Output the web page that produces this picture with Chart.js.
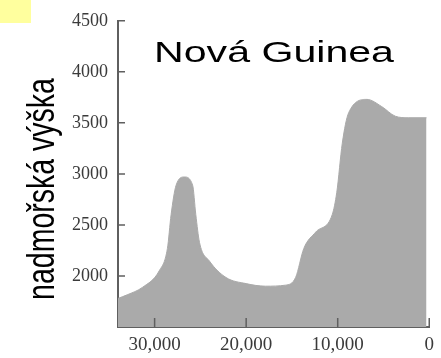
<!DOCTYPE html>
<html>
<head>
<meta charset="utf-8">
<script src="https://cdn.jsdelivr.net/npm/chart.js@4/dist/chart.umd.min.js"></script>
<style>
  html, body { margin: 0; padding: 0; background: #ffffff; }
  #wrap { position: relative; width: 441px; height: 358px; }
</style>
</head>
<body>
<div id="wrap"><canvas id="c"></canvas></div>
<script>
// Elevation profile, New Guinea: years before present vs. altitude (m)
const years = [34000, 33000, 31300, 29500, 28600, 28200, 27650, 26750, 25850, 25500, 25100, 24000, 22200, 20000, 17900, 15700, 14600, 13700, 12400, 10600, 10100, 9500, 8800, 6800, 5200, 3700, 2300, 300];
const elevation = [1780, 1815, 1890, 2050, 2270, 2600, 2890, 2970, 2890, 2600, 2330, 2145, 1985, 1925, 1900, 1910, 1985, 2270, 2430, 2600, 2820, 3300, 3600, 3730, 3660, 3565, 3550, 3550];
const xTickValues = [30000, 20000, 10000, 0];
const yTickValues = [2000, 2500, 3000, 3500, 4000, 4500];
const titleText = 'Nová Guinea';
const yAxisTitle = 'nadmořská výška';

const AXIS_COLOR = '#5f5f5f';
const TEXT_STRETCH = 1.37;

// light yellow tab in the top-left corner
const cornerTab = {
  id: 'cornerTab',
  beforeDraw(chart) {
    const ctx = chart.ctx;
    ctx.save();
    ctx.fillStyle = '#ffff9e';
    ctx.fillRect(0, 0, 31, 23);
    ctx.restore();
  }
};

// inward tick marks on both axes
const innerTicks = {
  id: 'innerTicks',
  afterDraw(chart) {
    const ctx = chart.ctx;
    const xs = chart.scales.x, ys = chart.scales.y;
    const area = chart.chartArea;
    ctx.save();
    ctx.strokeStyle = AXIS_COLOR;
    ctx.lineWidth = 1.5;
    ctx.beginPath();
    ys.ticks.forEach(t => {
      const py = ys.getPixelForValue(t.value);
      ctx.moveTo(area.left, py);
      ctx.lineTo(area.left + 7, py);
    });
    xs.ticks.forEach(t => {
      const px = xs.getPixelForValue(t.value);
      ctx.moveTo(px, area.bottom);
      ctx.lineTo(px, area.bottom - 9);
    });
    ctx.stroke();
    ctx.restore();
  }
};

// wide title and rotated axis title
const stretchedTitles = {
  id: 'stretchedTitles',
  afterDraw(chart) {
    const ctx = chart.ctx;
    ctx.save();
    ctx.fillStyle = '#000000';
    ctx.font = '30px "Liberation Sans", Arial, sans-serif';
    ctx.textAlign = 'center';
    ctx.textBaseline = 'alphabetic';
    ctx.translate(274, 62);
    ctx.scale(TEXT_STRETCH, 1);
    ctx.fillText(titleText, 0, 0);
    ctx.restore();

    ctx.save();
    ctx.fillStyle = '#000000';
    ctx.font = '28.5px "Liberation Sans", Arial, sans-serif';
    ctx.textAlign = 'center';
    ctx.textBaseline = 'alphabetic';
    ctx.translate(54, 189);
    ctx.scale(TEXT_STRETCH, 1);
    ctx.rotate(-Math.PI / 2);
    ctx.fillText(yAxisTitle, 0, 0);
    ctx.restore();
  }
};

const points = years.map((yr, i) => ({ x: yr, y: elevation[i] }));

new Chart(document.getElementById('c'), {
  type: 'line',
  data: {
    datasets: [{
      data: points,
      fill: 'start',
      backgroundColor: '#aaaaaa',
      borderColor: '#aaaaaa',
      borderWidth: 1,
      pointRadius: 0,
      cubicInterpolationMode: 'monotone'
    }]
  },
  options: {
    responsive: true,
    maintainAspectRatio: false,
    animation: false,
    layout: { padding: { left: 0, top: 17, right: 10, bottom: 0 } },
    plugins: { legend: { display: false }, tooltip: { enabled: false }, title: { display: false } },
    scales: {
      x: {
        type: 'linear',
        reverse: true,
        min: 0,
        max: 34000,
        afterBuildTicks(scale) { scale.ticks = xTickValues.map(v => ({ value: v })); },
        afterFit(scale) { scale.height = 31; },
        grid: { display: false, drawTicks: false },
        border: { display: true, color: AXIS_COLOR, width: 2 },
        ticks: {
          padding: 7,
          color: '#3a3a3a',
          font: { family: '"Liberation Serif", "Times New Roman", serif', size: 19 },
          callback: v => v.toLocaleString('en-US')
        }
      },
      y: {
        type: 'linear',
        min: 1500,
        max: 4500,
        afterBuildTicks(scale) { scale.ticks = yTickValues.map(v => ({ value: v })); },
        afterFit(scale) { scale.width = 118; },
        grid: { display: false, drawTicks: false },
        border: { display: true, color: AXIS_COLOR, width: 2 },
        ticks: {
          padding: 10,
          color: '#3a3a3a',
          font: { family: '"Liberation Serif", "Times New Roman", serif', size: 18 },
          callback: v => String(v)
        }
      }
    }
  },
  plugins: [cornerTab, innerTicks, stretchedTitles]
});
</script>
</body>
</html>
